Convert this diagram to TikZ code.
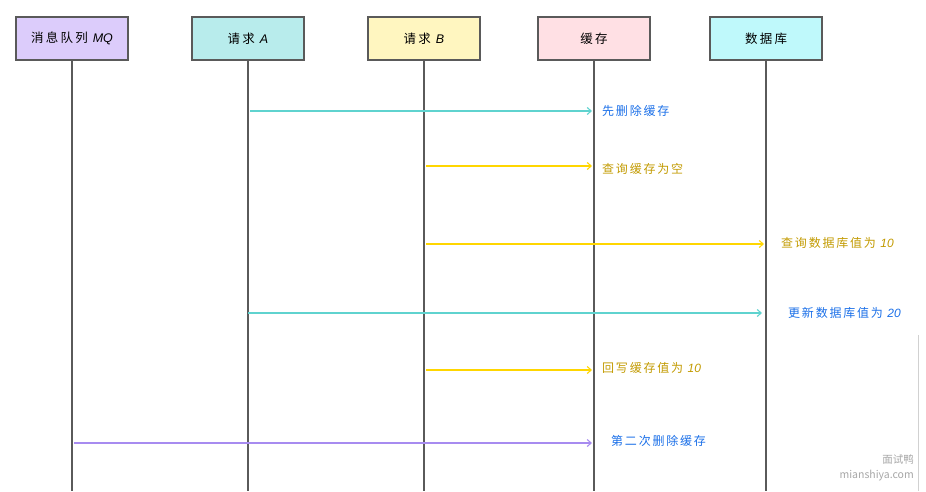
\documentclass[tikz,border=0pt]{standalone}
\usepackage{fontspec}
\setmainfont{Noto Sans CJK SC}
\newfontfamily\latfont{Liberation Sans}
\newcommand\lat[1]{{\latfont\itshape #1}}
\usetikzlibrary{arrows.meta}
\definecolor{cMQ}{HTML}{DCCCFB}
\definecolor{cA}{HTML}{B8ECEC}
\definecolor{cB}{HTML}{FFF6C0}
\definecolor{cC}{HTML}{FFE0E4}
\definecolor{cD}{HTML}{BFF9FB}
\definecolor{lTeal}{HTML}{5FD3CF}
\definecolor{lYel}{HTML}{FFD600}
\definecolor{lPur}{HTML}{A78BF0}
\definecolor{tBlue}{HTML}{1A6FE8}
\definecolor{tYel}{HTML}{C29A00}
\definecolor{gline}{HTML}{5A5A5A}
\tikzset{
  actor/.style={draw=gline, line width=1.3pt, minimum width=112pt, minimum height=43pt, inner sep=0pt, font=\fontsize{12.5}{14}\selectfont\addfontfeatures{LetterSpace=18}},
  life/.style={draw=gline, line width=1.2pt},
  msg/.style={line width=1.1pt, -{Straight Barb[length=4pt,width=7pt]}},
  lbl/.style={anchor=west, font=\fontsize{12}{14}\selectfont\addfontfeatures{LetterSpace=15}, inner sep=0pt}
}
\begin{document}
\begin{tikzpicture}[x=1pt,y=-1pt]
\useasboundingbox (0,0) rectangle (926,491);
\node[actor, fill=cMQ] (mq) at (72,38.5) {消息队列 \lat{MQ}};
\node[actor, fill=cA] (a) at (248,38.5) {请求 \lat{A}};
\node[actor, fill=cB] (b) at (424,38.5) {请求 \lat{B}};
\node[actor, fill=cC] (c) at (594,38.5) {缓存};
\node[actor, fill=cD] (d) at (766,38.5) {数据库};
\coordinate (mqe) at (72,491);
\coordinate (ae) at (248,491);
\coordinate (be) at (424,491);
\coordinate (ce) at (594,491);
\coordinate (de) at (766,491);
\draw[life] (mq.south) -- (mqe);
\draw[life] (a.south) -- (ae);
\draw[life] (b.south) -- (be);
\draw[life] (c.south) -- (ce);
\draw[life] (d.south) -- (de);
% messages
\coordinate (a1) at (250,111); \coordinate (c1) at (592,111);
\draw[msg, lTeal] (a1) -- (c1);
\node[lbl, text=tBlue] (t1) at (602,111) {先删除缓存};
\coordinate (b2) at (426,166); \coordinate (c2) at (592,166);
\draw[msg, lYel] (b2) -- (c2);
\node[lbl, text=tYel] (t2) at (602,169) {查询缓存为空};
\coordinate (b3) at (426,244); \coordinate (d3) at (764,244);
\draw[msg, lYel] (b3) -- (d3);
\node[lbl, text=tYel] (t3) at (781,243) {查询数据库值为 \lat{10}};
\coordinate (a4) at (248,313); \coordinate (d4) at (762,313);
\draw[msg, lTeal] (a4) -- (d4);
\node[lbl, text=tBlue] (t4) at (788,313) {更新数据库值为 \lat{20}};
\coordinate (b5) at (426,370); \coordinate (c5) at (592,370);
\draw[msg, lYel] (b5) -- (c5);
\node[lbl, text=tYel] (t5) at (602,368) {回写缓存值为 \lat{10}};
\coordinate (m6) at (74,443); \coordinate (c6) at (592,443);
\draw[msg, lPur] (m6) -- (c6);
\node[lbl, text=tBlue] (t6) at (611,441) {第二次删除缓存};
% watermark
\coordinate (g1) at (918,335); \coordinate (g2) at (918,491);
\draw[line width=1pt, black!18] (g1) -- (g2);
\node[anchor=east, text=black!35, font=\fontsize{10.5}{12}\selectfont, inner sep=0pt] (w1) at (914,460) {面试鸭};
\node[anchor=east, text=black!35, font=\fontsize{10.5}{12}\selectfont, inner sep=0pt] (w2) at (914,476) {mianshiya.com};
\end{tikzpicture}
\end{document}
